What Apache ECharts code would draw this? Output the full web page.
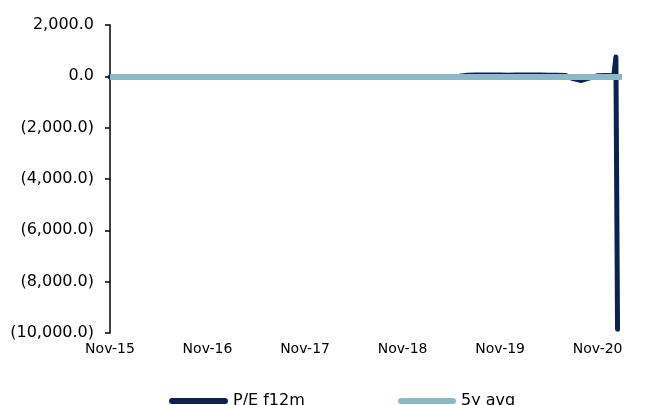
<!DOCTYPE html>
<html>
<head>
<meta charset="utf-8">
<script src="https://cdn.jsdelivr.net/npm/echarts@6/dist/echarts.min.js"></script>
<style>
html,body{margin:0;padding:0;background:#fff;}
#chart{width:647px;height:405px;}
</style>
</head>
<body>
<div id="chart"></div>
<script>
// x positions are months since Nov-15
var xTickLabels = ['Nov-15','Nov-16','Nov-17','Nov-18','Nov-19','Nov-20'];
var yTicks = [2000, 0, -2000, -4000, -6000, -8000, -10000];

var peMonth = [0,1,2,3,4,5,6,7,8,9,10,11,12,13,14,15,16,17,18,19,20,21,22,23,24,25,26,27,28,29,30,31,32,33,34,35,36,37,38,39,40,41,42,43,44,45,46,47,48,49,50,51,52,53,54,55,56,57,58,59,60,61,62,62.25,62.45];
var peValue = [-28,-25,-30,-22,-35,-27,-24,-31,-26,-20,-29,-33,-25,-22,-27,-30,-24,-21,-26,-32,-28,-23,-25,-30,-27,-22,-24,-29,-31,-26,-23,-28,-25,-21,-30,-27,-24,-26,-22,-28,-25,-20,-15,0,40,50,55,52,48,46,50,55,56,52,46,42,35,-90,-160,-60,25,30,25,750,-9850];

var avgMonth = [0, 63];
var avgValue = [-30, -30];

var chart = echarts.init(document.getElementById('chart'), null, {renderer:'canvas'});
var FONT = 'DejaVu Sans';
function fmt(v){
  var s = Math.abs(v).toLocaleString('en-US',{minimumFractionDigits:1, maximumFractionDigits:1});
  return v < 0 ? '(' + s + ')' : s;
}
var peData = peMonth.map(function(m,i){return [m, peValue[i]];});
var avgData = avgMonth.map(function(m,i){return [m, avgValue[i]];});
var legendIcon = 'path://M3,0 H56 A3,3 0 0 1 56,6 H3 A3,3 0 0 1 3,0 Z';

chart.setOption({
  animation: false,
  backgroundColor: '#ffffff',
  grid: {left:110, right:25, top:25, bottom:72, containLabel:false},
  legend: [
    {data:['P/E f12m'], left:164, top:388, icon:legendIcon, itemWidth:59, itemHeight:6,
     textStyle:{fontFamily:FONT, fontSize:16, color:'#000'}},
    {data:['5y avg'], left:393, top:388, icon:legendIcon, itemWidth:58, itemHeight:6,
     textStyle:{fontFamily:FONT, fontSize:16, color:'#000'}}
  ],
  xAxis: {
    type:'value', min:0, max:63, interval:12,
    axisLine:{show:false}, axisTick:{show:false}, splitLine:{show:false},
    axisLabel:{
      margin:9, fontFamily:FONT, fontSize:14, color:'#000', showMaxLabel:false,
      formatter:function(v){ return (v % 12 === 0 && v/12 < xTickLabels.length) ? xTickLabels[v/12] : ''; }
    }
  },
  yAxis: {
    type:'value', min:-10000, max:2000, interval:2000,
    axisLine:{show:true, lineStyle:{color:'#000', width:1.5}},
    axisTick:{show:true, inside:false, length:5, lineStyle:{color:'#000', width:1.5}},
    splitLine:{show:false},
    axisLabel:{margin:16, fontFamily:FONT, fontSize:16, color:'#000', formatter:function(v){ return fmt(v); }}
  },
  series: [
    {name:'P/E f12m', type:'line', data:peData, showSymbol:false, symbol:'none',
     itemStyle:{color:'#0a2352'},
     lineStyle:{color:'#0a2352', width:5, cap:'round', join:'round'}},
    {name:'5y avg', type:'line', data:avgData, showSymbol:false, symbol:'none',
     itemStyle:{color:'#8cb9c8'},
     lineStyle:{color:'#8cb9c8', width:6, cap:'butt'}}
  ]
});
</script>
</body>
</html>
